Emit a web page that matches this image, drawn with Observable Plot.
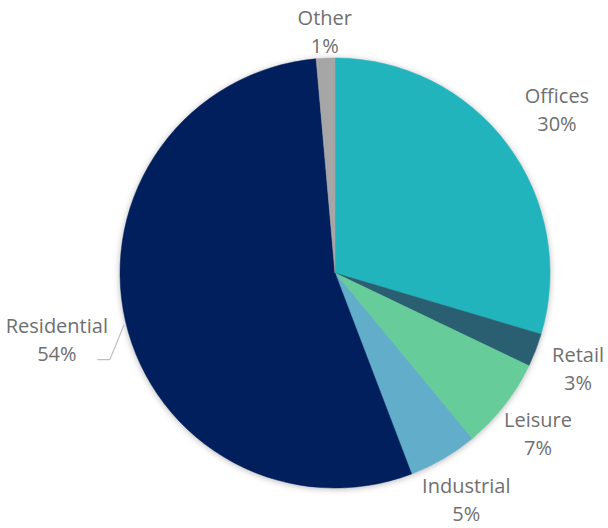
<!DOCTYPE html>
<html><head><meta charset="utf-8">
<script src="https://cdn.jsdelivr.net/npm/d3@7"></script>
<script src="https://cdn.jsdelivr.net/npm/@observablehq/plot@0.6"></script>
<style>html,body{margin:0;padding:0;background:#fff;}</style>
</head><body><div id="chart"></div>
<script>
// ---- data ----
const categories = ["Offices", "Retail", "Leisure", "Industrial", "Residential", "Other"];
const shares = [29.6, 2.5, 6.9, 5.2, 54.4, 1.4];
const percentLabels = ["30%", "3%", "7%", "5%", "54%", "1%"];
const sliceColors = ["#22b4bd", "#2a5e71", "#66cc99", "#62aeca", "#001f5c", "#a6a6a6"];

// ---- layout ----
const W = 608, H = 528;
const CX = 335, CY = 273, R = 215;
const labelRadius = [1.285, 1.209, 1.195, 1.208, 1.330, 1.135]; // in pie radii
const textColor = "#6f6f6f";

const color = Plot.scale({color: {type: "ordinal", domain: categories, range: sliceColors}});

const arcs = d3.pie().sort(null).value(d => d.share)(
  categories.map((c, i) => ({category: c, share: shares[i], pct: percentLabels[i], k: labelRadius[i]}))
);
const slices = arcs.map(a => ({...a.data, start: a.startAngle, end: a.endAngle, mid: (a.startAngle + a.endAngle) / 2}));

const labels = slices.map(s => ({
  ...s,
  x: CX + R * s.k * Math.sin(s.mid),
  y: CY - R * s.k * Math.cos(s.mid)
}));

// leader line for the Residential label
const res = labels.find(d => d.category === "Residential");
const leader = [
  {x: CX + R * 1.01 * Math.sin(res.mid), y: CY - R * 1.01 * Math.cos(res.mid) + 3},
  {x: res.x + 53, y: res.y + 22},
  {x: res.x + 41, y: res.y + 22}
];

const pieMark = (index, scales) => {
  const cx = scales.x(CX), cy = scales.y(CY);
  const r = Math.abs(scales.x(CX + R) - cx);
  const arc = d3.arc().innerRadius(0).outerRadius(r);
  const g = d3.create("svg:g")
    .attr("transform", `translate(${cx},${cy})`)
    .style("filter", "drop-shadow(0px 1px 3px rgba(0,0,0,0.28))");
  g.selectAll("path").data(slices).join("path")
    .attr("d", d => arc({startAngle: d.start, endAngle: d.end}))
    .attr("fill", d => color.apply(d.category))
    .attr("stroke", d => color.apply(d.category))
    .attr("stroke-width", 0.5);
  return g.node();
};

const chart = Plot.plot({
  width: W, height: H,
  margin: 0,
  x: {domain: [0, W], range: [0, W], axis: null},
  y: {domain: [0, H], range: [0, H], axis: null},
  style: {fontFamily: "'Open Sans', sans-serif", background: "#fff"},
  marks: [
    pieMark,
    Plot.line(leader, {x: "x", y: "y", stroke: "#bfbfbf", strokeWidth: 1.2}),
    Plot.text(labels, {
      x: "x", y: "y",
      text: d => `${d.category}\n${d.pct}`,
      fontSize: 20, lineHeight: 1.4,
      fill: textColor, textAnchor: "middle",
      fontFamily: "'Open Sans', sans-serif"
    })
  ]
});
document.getElementById("chart").append(chart);
</script>
</body></html>
